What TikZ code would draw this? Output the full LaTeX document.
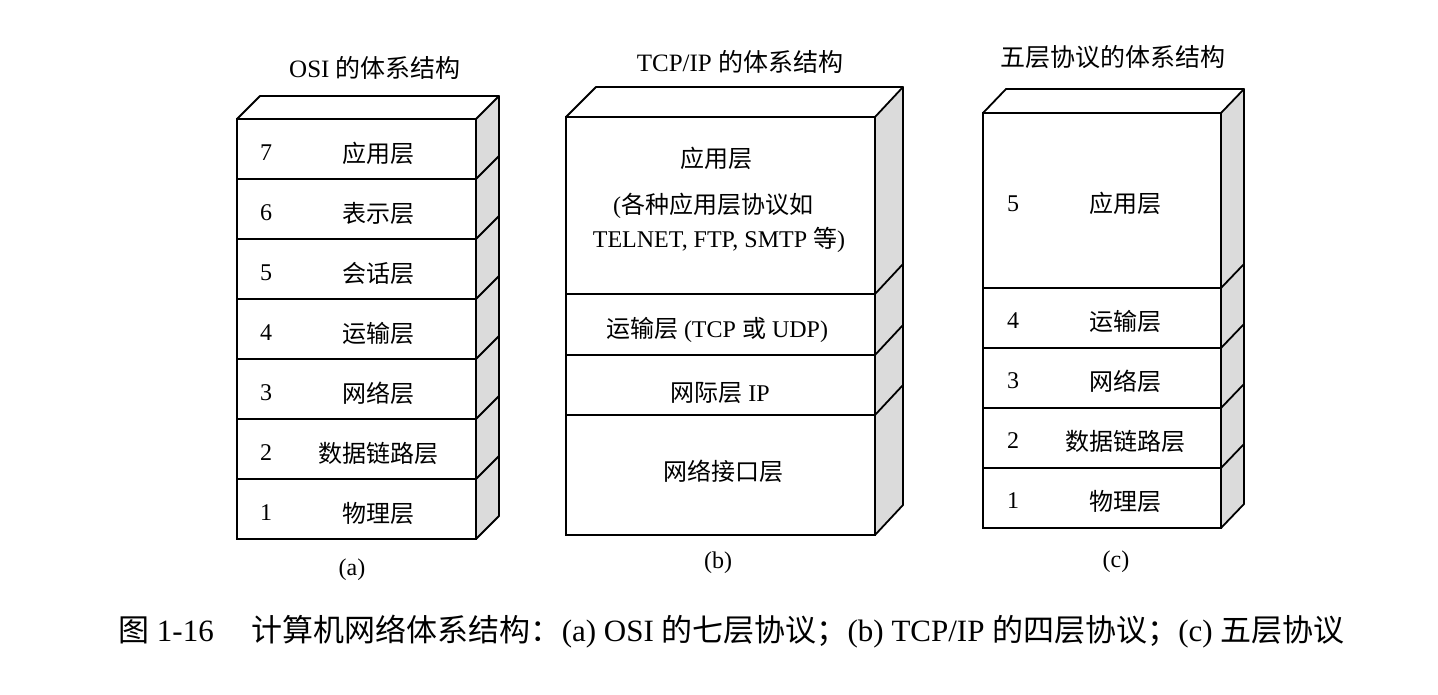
\documentclass[tikz,border=0pt]{standalone}
\usepackage{fontspec}
\setmainfont{Liberation Serif}
\newfontfamily\cjk{Noto Sans CJK SC}
\begin{document}
\begin{tikzpicture}[x=1pt,y=-1pt,
  edge/.style={line width=1.8pt, line join=round, line cap=round},
  layer/.style={draw, line width=1.8pt, rectangle, inner sep=0pt, outer sep=0pt, anchor=north west},
  sideface/.style={fill=black!14},
  txt/.style={inner sep=0pt, font=\fontsize{24}{28}\selectfont},
  ttl/.style={inner sep=0pt, font=\fontsize{25}{30}\selectfont},
  captxt/.style={inner sep=0pt, font=\fontsize{31}{35}\selectfont},
]
\path[use as bounding box, fill=white] (0,0) rectangle (1438,694);

% ---------- (a) OSI ----------
\fill[sideface] (476,119) -- (499,96) -- (499,516) -- (476,539) -- cycle;
\foreach \n/\t [count=\i from 0] in {7/应用层,6/表示层,5/会话层,4/运输层,3/网络层,2/数据链路层,1/物理层}{
  \node[layer, minimum width=239pt, minimum height=60pt] (a\n) at (237,{119+60*\i}) {};
  \node[txt] (an\n) at ([xshift=29pt,yshift=-4pt]a\n.west) {\n};
  \node[txt] (at\n) at ([xshift=22pt,yshift=-4pt]a\n.center) {\cjk \t};
  \draw[edge] (a\n.north east) -- ++(23,-23);
}
\draw[edge] (a1.south east) -- ++(23,-23) -- (499,96) -- (260,96) -- (a7.north west);
\node[ttl] (ta) at (375,68) {OSI {\cjk 的体系结构}};
\node[txt] (la) at (352,570) {(a)};

% ---------- (b) TCP/IP ----------
\fill[sideface] (875,117) -- (903,87) -- (903,505) -- (875,535) -- cycle;
\node[layer, minimum width=309pt, minimum height=177pt] (bapp) at (566,117) {};
\node[layer, minimum width=309pt, minimum height=61pt] (btr) at (566,294) {};
\node[layer, minimum width=309pt, minimum height=60pt] (bip) at (566,355) {};
\node[layer, minimum width=309pt, minimum height=120pt] (bni) at (566,415) {};
\foreach \b in {bapp,btr,bip,bni}{\draw[edge] (\b.north east) -- ++(28,-30);}
\draw[edge] (bni.south east) -- ++(28,-30) -- (903,87) -- (596,87) -- (bapp.north west);
\node[txt] (bt1) at (716,158) {\cjk 应用层};
\node[txt] (bt2) at (713,206) {({\cjk 各种应用层协议如}};
\node[txt] (bt3) at (719,240) {TELNET, FTP, SMTP {\cjk 等})};
\node[txt] (bt4) at (717,330) {{\cjk 运输层} (TCP {\cjk 或} UDP)};
\node[txt] (bt5) at (720,393) {{\cjk 网际层} IP};
\node[txt] (bt6) at (723,471) {\cjk 网络接口层};
\node[ttl] (tb) at (740,62) {TCP/IP {\cjk 的体系结构}};
\node[txt] (lb) at (718,563) {(b)};

% ---------- (c) five layers ----------
\fill[sideface] (1221,113) -- (1244,89) -- (1244,504) -- (1221,528) -- cycle;
\node[layer, minimum width=238pt, minimum height=175pt] (c5) at (983,113) {};
\foreach \n/\t [count=\i from 0] in {4/运输层,3/网络层,2/数据链路层,1/物理层}{
  \node[layer, minimum width=238pt, minimum height=60pt] (c\n) at (983,{288+60*\i}) {};
}
\foreach \n/\t in {5/应用层,4/运输层,3/网络层,2/数据链路层,1/物理层}{
  \node[txt] (cn\n) at ([xshift=30pt,yshift=-3pt]c\n.west) {\n};
  \node[txt] (ct\n) at ([xshift=23pt,yshift=-3pt]c\n.center) {\cjk \t};
  \draw[edge] (c\n.north east) -- ++(23,-24);
}
\draw[edge] (c1.south east) -- ++(23,-24) -- (1244,89) -- (1006,89) -- (c5.north west);
\node[ttl] (tc) at (1113,57) {\cjk 五层协议的体系结构};
\node[txt] (lc) at (1116,562) {(c)};

% ---------- caption ----------
\node[captxt, anchor=west] (caption) at (118,632) {{\cjk 图} 1-16\hspace{38pt}{\cjk 计算机网络体系结构：}(a) OSI {\cjk 的七层协议；}(b) TCP/IP {\cjk 的四层协议；}(c) {\cjk 五层协议}};
\end{tikzpicture}
\end{document}
